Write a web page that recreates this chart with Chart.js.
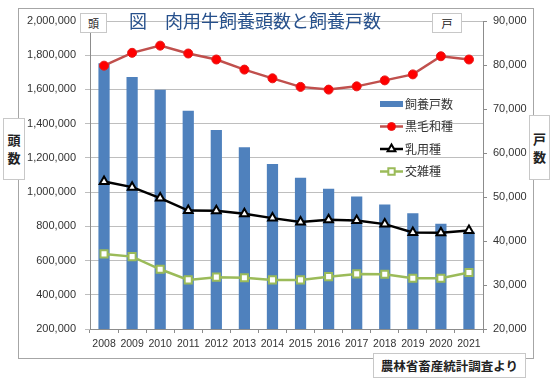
<!DOCTYPE html>
<html>
<head>
<meta charset="utf-8">
<script src="https://cdn.jsdelivr.net/npm/chart.js@4.4.0/dist/chart.umd.min.js"></script>
<style>
html, body { margin: 0; padding: 0; background: #fff; }
#wrap { position: relative; width: 554px; height: 384px; overflow: hidden; }
#frame { position: absolute; left: 18px; top: 8px; width: 516px; height: 351px; border: 1px solid #a6a6a6; box-sizing: border-box; }
#chart { position: absolute; left: 0; top: 0; }
.box { position: absolute; background: #fff; border: 1px solid #c8c8c8; box-sizing: border-box;
       font-family: "Noto Sans CJK JP", sans-serif; color: #222; display: flex; align-items: center; justify-content: center; }
#title { position: absolute; left: 120px; top: 9px; width: 270px; text-align: center; white-space: nowrap;
         font-family: "Noto Sans CJK JP", sans-serif; font-size: 18px; line-height: 22px; color: #26508c; }
.vert { flex-direction: column; font-size: 13px; font-weight: bold; line-height: 18px; }
</style>
</head>
<body>
<div id="wrap">
  <div id="frame"></div>
  <canvas id="chart" width="554" height="384"></canvas>
  <div id="title">図　肉用牛飼養頭数と飼養戸数</div>
  <div class="box" style="left:80px;top:13px;width:27px;height:20px;font-size:11px;">頭</div>
  <div class="box" style="left:432px;top:13px;width:30px;height:20px;font-size:11px;">戸</div>
  <div class="box vert" style="left:3px;top:118px;width:22px;height:62px;"><span>頭</span><span>数</span></div>
  <div class="box vert" style="left:529px;top:115px;width:21px;height:65px;"><span>戸</span><span>数</span></div>
  <div class="box" style="left:373px;top:353px;width:153px;height:25px;font-size:12.5px;font-weight:bold;">農林省畜産統計調査より</div>
</div>
<script>
// values
const years = ['2008', '2009', '2010', '2011', '2012', '2013', '2014', '2015', '2016', '2017', '2018', '2019', '2020', '2021'];
const seriesNames = ['飼養戸数', '黒毛和種', '乳用種', '交雑種'];
const farms = [80400, 77300, 74400, 69600, 65200, 61300, 57500, 54400, 51900, 50100, 48300, 46300, 43900, 42100];
const wagyu = [1739000, 1814000, 1856000, 1810000, 1775000, 1716000, 1665000, 1615000, 1599000, 1618000, 1653000, 1688000, 1794000, 1775000];
const dairy = [1062000, 1029000, 965000, 892000, 891000, 873000, 848000, 825000, 838000, 834000, 813000, 764000, 762000, 775000];
const crossbred = [639000, 623000, 549000, 487000, 503000, 499000, 487000, 487000, 506000, 522000, 520000, 497000, 497000, 530000];

const tickFont = { family: '"Liberation Sans", Arial, sans-serif', size: 11 };
const tickColor = '#333';
const axisColor = '#8c8c8c';

// legend drawn inside the plot area, like the Excel original
const insideLegend = {
    id: 'insideLegend',
    afterDatasetsDraw(chart) {
        const ctx = chart.ctx;
        const area = chart.chartArea;
        const x0 = area.right - 103;
        const y0 = 104;
        const gap = 22.5;
        ctx.save();
        chart.data.datasets.forEach((ds, i) => {
            const y = y0 + i * gap;
            if (ds.type === 'bar') {
                ctx.fillStyle = ds.backgroundColor;
                ctx.fillRect(x0, y - 3, 23, 6);
            } else {
                ctx.strokeStyle = ds.borderColor;
                ctx.lineWidth = ds.borderWidth;
                ctx.beginPath();
                ctx.moveTo(x0, y);
                ctx.lineTo(x0 + 23, y);
                ctx.stroke();
                ctx.fillStyle = ds.pointBackgroundColor;
                ctx.strokeStyle = ds.pointBorderColor;
                ctx.lineWidth = ds.pointBorderWidth;
                Chart.helpers.drawPoint(ctx, {
                    pointStyle: ds.pointStyle,
                    radius: ds.pointRadius - 0.5,
                    borderWidth: ds.pointBorderWidth
                }, x0 + 11.5, y);
            }
            ctx.fillStyle = '#333';
            ctx.font = '12px "Noto Sans CJK JP", sans-serif';
            ctx.textBaseline = 'middle';
            ctx.textAlign = 'left';
            ctx.fillText(ds.label, x0 + 25, y);
        });
        ctx.restore();
    }
};

new Chart(document.getElementById('chart'), {
    data: {
        labels: years,
        datasets: [
            {
                type: 'bar', label: seriesNames[0], data: farms, yAxisID: 'yR', order: 10,
                backgroundColor: '#4f81bd', barPercentage: 0.4, categoryPercentage: 1.0
            },
            {
                type: 'line', label: seriesNames[1], data: wagyu, yAxisID: 'yL', order: 3,
                borderColor: '#c0504d', borderWidth: 2.5, tension: 0,
                pointStyle: 'circle', pointRadius: 4.5, pointBackgroundColor: '#ff0000',
                pointBorderColor: '#e81818', pointBorderWidth: 1
            },
            {
                type: 'line', label: seriesNames[2], data: dairy, yAxisID: 'yL', order: 2,
                borderColor: '#000000', borderWidth: 2.5, tension: 0,
                pointStyle: 'triangle', pointRadius: 5, pointBackgroundColor: '#ffffff',
                pointBorderColor: '#000000', pointBorderWidth: 2
            },
            {
                type: 'line', label: seriesNames[3], data: crossbred, yAxisID: 'yL', order: 1,
                borderColor: '#9bbb59', borderWidth: 2.5, tension: 0,
                pointStyle: 'rect', pointRadius: 5, pointBackgroundColor: '#ffffff',
                pointBorderColor: '#9bbb59', pointBorderWidth: 2
            }
        ]
    },
    options: {
        responsive: false,
        animation: false,
        devicePixelRatio: 1,
        layout: { padding: { top: 21, left: 0, right: 0, bottom: 0 } },
        plugins: { legend: { display: false }, tooltip: { enabled: false } },
        scales: {
            x: {
                offset: true,
                grid: { display: true, offset: true, drawOnChartArea: false, color: axisColor, tickLength: 4 },
                border: { display: true, color: axisColor },
                ticks: { color: tickColor, font: { family: tickFont.family, size: 10.5 }, padding: 5, autoSkip: false, maxRotation: 0 },
                afterFit(scale) { scale.height = 55; }
            },
            yL: {
                position: 'left',
                min: 200000, max: 2000000,
                grid: { color: '#bebebe', tickLength: 5 },
                border: { display: true, color: axisColor },
                ticks: { stepSize: 200000, color: tickColor, font: tickFont, padding: 9,
                         callback: v => v.toLocaleString('en-US') },
                afterFit(scale) { scale.width = 90; }
            },
            yR: {
                position: 'right',
                min: 20000, max: 90000,
                grid: { drawOnChartArea: false, color: axisColor, tickLength: 4 },
                border: { display: true, color: axisColor },
                ticks: { stepSize: 10000, color: tickColor, font: tickFont, padding: 6,
                         callback: v => v.toLocaleString('en-US') },
                afterFit(scale) { scale.width = 71; }
            }
        }
    },
    plugins: [insideLegend]
});
</script>
</body>
</html>
